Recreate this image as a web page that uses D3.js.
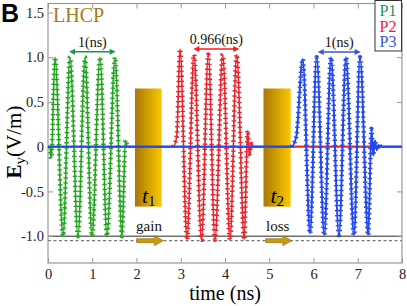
<!DOCTYPE html>
<html>
<head>
<meta charset="utf-8">
<script src="https://cdn.jsdelivr.net/npm/d3@7"></script>
<style>
    body { margin: 0; background: #fff; }
    svg { display: block; }
    svg text { font-family: "Liberation Serif", "DejaVu Serif", "Times New Roman", serif; }
</style>
</head>
<body>
<div id="chart"></div>
<script>
// ---- values ----
const timeTicks = [0, 1, 2, 3, 4, 5, 6, 7, 8];
const eyTicks = [-1.0, -0.5, 0, 0.5, 1.0, 1.5];
const eyTickLabels = ["-1.0", "-0.5", "0", "0.5", "1.0", "1.5"];

const seriesNames = ["P1", "P2", "P3"];
const seriesColors = ["#22a51e", "#e8232b", "#2448ee"];
const legendColors = ["#1a9650", "#ff1a1a", "#3a55e0"];

// [time (ns), Ey (V/m)] : edges, peaks and troughs of each pulse
const p1 = [[0, 0], [0.04, 0], [0.075, -0.13], [0.158, 1.0], [0.339, -1.0], [0.497, 1.0], [0.678, -1.0],
    [0.836, 1.0], [0.994, -1.0], [1.175, 1.0], [1.333, -1.0], [1.514, 1.0], [1.672, -1.0],
    [1.75, 0.07], [1.79, 0], [8, 0]];
const p2 = [[0, 0], [2.83, 0], [2.91, 0.12], [2.983, 1.09], [3.141, -1.04], [3.299, 1.03], [3.469, -1.04],
    [3.623, 1.03], [3.774, -1.04], [3.948, 1.03], [4.113, -1.04], [4.264, 1.03], [4.436, -1.04],
    [4.51, 0.18], [4.55, -0.08], [4.6, 0.03], [4.65, 0], [8, 0]];
const p3 = [[0, 0], [5.5, 0], [5.61, 0.11], [5.756, 0.98], [5.921, -0.97], [6.072, 1.0], [6.244, -0.99],
    [6.395, 1.0], [6.576, -0.99], [6.734, 1.0], [6.915, -0.99], [7.051, 1.0], [7.238, -0.99],
    [7.31, 0.2], [7.35, -0.1], [7.39, 0.07], [7.43, -0.04], [7.47, 0.02], [7.52, 0], [8, 0]];
const pulses = [p1, p2, p3];

// period arrows
const periodStart = [0.475, 3.284, 6.095];
const periodEnd = [1.53, 4.323, 7.067];
const periodLevel = [1.062, 1.092, 1.058];
const periodLabels = ["1(ns)", "0.966(ns)", "1(ns)"];

// t1 / t2 windows and gain / loss arrows
const windowStart = [1.966, 4.87];
const windowEnd = [2.57, 5.485];
const windowTop = 0.65;
const windowBottom = -0.67;
const windowIndex = ["1", "2"];
const arrowStart = [2.004, 4.92];
const arrowEnd = [2.606, 5.51];
const arrowLevel = -1.05;
const arrowLabels = ["gain", "loss"];

const refLevel = -1.0;
const dashLevel = -1.05;

// ---- drawing ----
const serif = "'Liberation Serif', 'DejaVu Serif', 'Times New Roman', serif";
let margin = {top: 3.5, right: 5, bottom: 43, left: 48};
let W = 407, H = 306;

let svg = d3.select("#chart").append("svg")
    .attr("width", W)
    .attr("height", H);

let x = d3.scaleLinear()
    .domain([0, 8])
    .range([margin.left, W - margin.right]);

let y = d3.scaleLinear()
    .domain([-1.3, 1.6])
    .range([H - margin.bottom, margin.top]);

let defs = svg.append("defs");
let grad = defs.append("linearGradient")
    .attr("id", "gold");
grad.append("stop").attr("offset", "0%").attr("stop-color", "#a87806");
grad.append("stop").attr("offset", "100%").attr("stop-color", "#fdc800");

// gold t1 / t2 windows (under the traces)
windowStart.forEach(function(t, i) {
    svg.append("rect")
        .attr("x", x(t))
        .attr("y", y(windowTop))
        .attr("width", x(windowEnd[i]) - x(t))
        .attr("height", y(windowBottom) - y(windowTop))
        .style("fill", "url(#gold)");

    let lbl = svg.append("text")
        .attr("x", x(t) + 7)
        .attr("y", y(windowBottom) - 4)
        .style("font-family", serif)
        .style("font-size", "22px");
    lbl.append("tspan").style("font-style", "italic").text("t");
    lbl.append("tspan").attr("dy", 3).style("font-size", "15px").text(windowIndex[i]);
});

// reference lines
svg.append("line")
    .attr("x1", x(0)).attr("x2", x(8))
    .attr("y1", y(refLevel)).attr("y2", y(refLevel))
    .style("stroke", "#6e6e6e")
    .style("stroke-width", 1.5);

svg.append("line")
    .attr("x1", x(0)).attr("x2", x(8))
    .attr("y1", y(dashLevel)).attr("y2", y(dashLevel))
    .style("stroke", "#777")
    .style("stroke-width", 1.2)
    .style("stroke-dasharray", "3,2.5");

// axes, ticks pointing inwards
let xAxisB = svg.append("g")
    .attr("transform", `translate(0, ${H - margin.bottom})`)
    .call(d3.axisBottom(x).tickValues(timeTicks).tickSize(-5).tickPadding(6));
let xAxisT = svg.append("g")
    .attr("transform", `translate(0, ${margin.top})`)
    .call(d3.axisTop(x).tickValues(timeTicks).tickSize(-5).tickFormat(""));
let yAxisL = svg.append("g")
    .attr("transform", `translate(${margin.left}, 0)`)
    .call(d3.axisLeft(y).tickValues(eyTicks).tickSize(-5).tickPadding(4)
        .tickFormat((d, i) => eyTickLabels[i]));
let yAxisR = svg.append("g")
    .attr("transform", `translate(${W - margin.right}, 0)`)
    .call(d3.axisRight(y).tickValues(eyTicks).tickSize(-5).tickFormat(""));

[xAxisB, xAxisT, yAxisL, yAxisR].forEach(function(g) {
    g.attr("font-family", null);
    g.select(".domain").remove();
    g.selectAll(".tick line").style("stroke", "#999");
    g.selectAll("text")
        .style("font-family", serif)
        .style("font-size", "14.5px")
        .style("fill", "#222");
});

svg.append("rect")
    .attr("x", margin.left)
    .attr("y", margin.top)
    .attr("width", W - margin.left - margin.right)
    .attr("height", H - margin.top - margin.bottom)
    .style("fill", "none")
    .style("stroke", "#999")
    .style("stroke-width", 1.2);

// pulses
let line = d3.line()
    .x(d => x(d[0]))
    .y(d => y(d[1]))
    .curve(d3.curveMonotoneX);

pulses.forEach(function(p, i) {
    svg.append("path")
        .datum(p)
        .attr("d", line)
        .style("fill", "none")
        .style("stroke", seriesColors[i])
        .style("stroke-width", i === 2 ? 2 : 1.6);

    // '+' markers only along the pulse itself
    let first = p.findIndex(d => d[1] !== 0) - 1;
    let last = p.length - 1 - p.slice().reverse().findIndex(d => d[1] !== 0) + 1;
    svg.append("path")
        .datum(p.slice(first, last + 1))
        .attr("d", line)
        .style("fill", "none")
        .style("stroke", seriesColors[i])
        .style("stroke-width", 4.5)
        .style("stroke-dasharray", "1.4,3.6");
});

// period arrows
periodStart.forEach(function(t, i) {
    let x0 = x(t), x1 = x(periodEnd[i]), yy = y(periodLevel[i]);
    let c = legendColors[i];
    svg.append("line")
        .attr("x1", x0 + 3).attr("x2", x1 - 3)
        .attr("y1", yy).attr("y2", yy)
        .style("stroke", c)
        .style("stroke-width", 1.5);
    svg.append("path")
        .attr("d", `M${x0},${yy} l6,-3 l0,6 Z M${x1},${yy} l-6,-3 l0,6 Z`)
        .style("fill", c);
    svg.append("text")
        .attr("x", (x0 + x1) / 2)
        .attr("y", yy - 5)
        .attr("text-anchor", "middle")
        .style("font-family", serif)
        .style("font-size", "14px")
        .style("fill", "#111")
        .text(periodLabels[i]);
});

// gain / loss arrows
arrowStart.forEach(function(t, i) {
    let x0 = x(t), x1 = x(arrowEnd[i]), yy = y(arrowLevel);
    svg.append("path")
        .attr("d", `M${x0},${yy - 2} L${x1 - 9},${yy - 2} L${x1 - 9},${yy - 5} L${x1},${yy} L${x1 - 9},${yy + 5} L${x1 - 9},${yy + 2} L${x0},${yy + 2} Z`)
        .style("fill", "#c99a12")
        .style("stroke", "#8c6a05")
        .style("stroke-width", 0.6);
    svg.append("text")
        .attr("x", (x0 + x1) / 2 - 1)
        .attr("y", yy - 10)
        .attr("text-anchor", "middle")
        .style("font-family", serif)
        .style("font-size", "15px")
        .style("fill", "#111")
        .text(arrowLabels[i]);
});

// legend
let lg = svg.append("g");
lg.append("rect")
    .attr("x", 375)
    .attr("y", 0.5)
    .attr("width", 26.5)
    .attr("height", 50.5)
    .style("fill", "#fff")
    .style("stroke", "#333")
    .style("stroke-width", 1);
seriesNames.forEach(function(n, i) {
    lg.append("text")
        .attr("x", 388)
        .attr("y", 16 + i * 15.5)
        .attr("text-anchor", "middle")
        .style("font-family", serif)
        .style("font-size", "16px")
        .style("fill", legendColors[i])
        .text(n);
});

// titles
svg.append("text")
    .attr("x", 53)
    .attr("y", 22)
    .style("font-family", serif)
    .style("font-size", "20px")
    .style("fill", "#a8791c")
    .text("LHCP");

svg.append("text")
    .attr("x", 1)
    .attr("y", 22)
    .style("font-family", "'Liberation Sans', Arial, sans-serif")
    .style("font-weight", "bold")
    .style("font-size", "25px")
    .text("B");

svg.append("text")
    .attr("x", (x(0) + x(8)) / 2)
    .attr("y", 300)
    .attr("text-anchor", "middle")
    .style("font-family", serif)
    .style("font-size", "20px")
    .text("time (ns)");

let yl = svg.append("text")
    .attr("transform", `translate(21, 142) rotate(-90)`)
    .attr("text-anchor", "middle")
    .style("font-family", serif)
    .style("font-size", "21px");
yl.append("tspan").style("font-weight", "bold").text("E");
yl.append("tspan").attr("dy", 4).style("font-size", "15px").text("y");
yl.append("tspan").attr("dy", -4).text("(V/m)");
</script>
</body>
</html>
